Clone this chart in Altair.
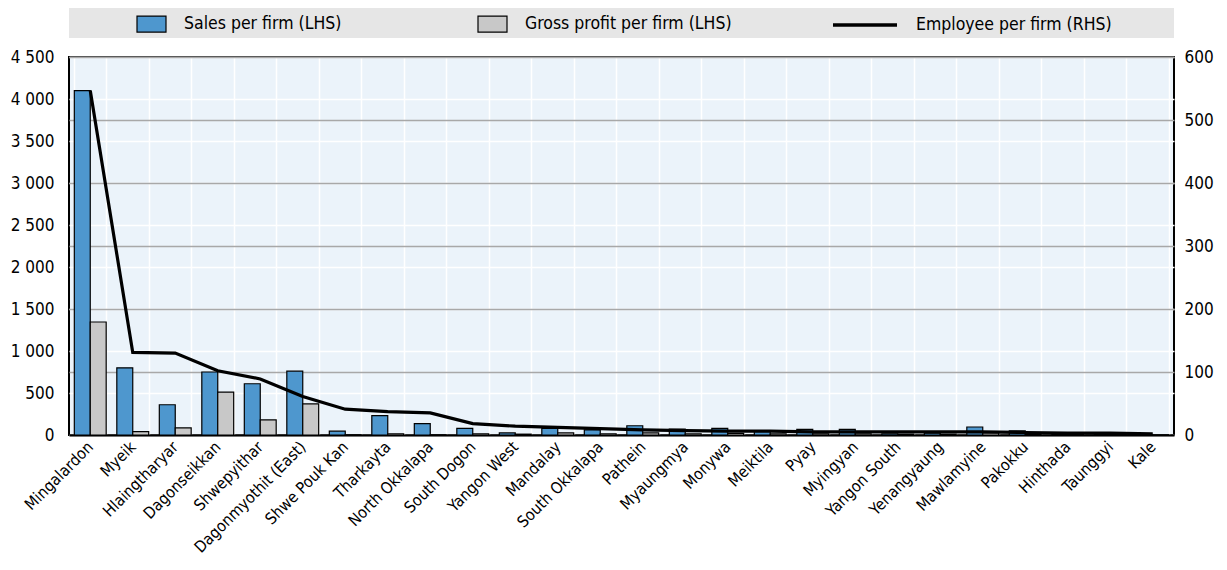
import altair as alt
import pandas as pd

categories = ["Mingalardon", "Myeik", "Hlaingtharyar", "Dagonseikkan", "Shwepyithar",
              "Dagonmyothit (East)", "Shwe Pouk Kan", "Tharkayta", "North Okkalapa",
              "South Dogon", "Yangon West", "Mandalay", "South Okkalapa", "Pathein",
              "Myaungmya", "Monywa", "Meiktila", "Pyay", "Myingyan", "Yangon South",
              "Yenangyaung", "Mawlamyine", "Pakokku", "Hinthada", "Taunggyi", "Kale"]
sales = [4100, 800, 360, 750, 610, 760, 45, 230, 135, 80, 25, 80, 60, 110,
         70, 80, 48, 68, 68, 15, 22, 95, 50, 10, 12, 6]
gross = [1345, 40, 85, 510, 180, 370, 3, 15, 3, 15, 10, 25, 15, 25,
         15, 20, 15, 15, 15, 10, 10, 25, 10, 5, 5, 3]
employees = [547, 131, 130, 102, 89, 61, 41, 37, 35, 18, 14, 12, 10, 8,
             7, 6, 6, 5, 5, 5, 5, 5, 4, 3, 3, 2]

S = "Sales per firm (LHS)"
G = "Gross profit per firm (LHS)"
E = "Employee per firm (RHS)"
bar_series = [S, G]
bar_colors = ["#4E97CE", "#C8C8C8"]
left_ticks = list(range(0, 4501, 500))
right_ticks = list(range(0, 601, 100))

n = len(categories)
bars_df = pd.DataFrame({
    "cat": categories * 2,
    "series": [S] * n + [G] * n,
    "value": sales + gross,
})
line_df = pd.DataFrame({"cat": categories, "emp": employees, "series": [E] * n})

FONT = "Liberation Sans Narrow, Arial Narrow, DejaVu Sans Condensed, sans-serif"
W, H = 1105, 378

xscale = alt.Scale(domain=categories, paddingInner=0.25, paddingOuter=0.125)
x_enc = alt.X("cat:N", sort=categories, scale=xscale, title=None,
              axis=alt.Axis(labelAngle=-45, labelAlign="right", labelBaseline="middle",
                            labelPadding=9, labelFontSize=16, ticks=False, domainColor="black",
                            domainWidth=2, grid=True, gridColor="white", gridWidth=1.5,
                            tickBand="extent", labelLimit=300))

bar_legend = alt.Legend(
    title=None, orient="none", legendX=67, legendY=-48.5, direction="horizontal",
    symbolType="M-1,-0.55H1V0.55H-1Z", symbolSize=841, symbolStrokeColor="black",
    symbolStrokeWidth=1.2, symbolOpacity=1, labelOffset=17, columnPadding=133, padding=0,
    labelFont=FONT, labelFontSize=17.5, labelColor="black", labelLimit=400,
)
line_legend = alt.Legend(
    title=None, orient="none", legendX=762, legendY=-66, direction="horizontal",
    symbolType="M-1,0H1", symbolSize=4096, symbolStrokeWidth=3.5, symbolOpacity=1,
    labelOffset=17, padding=0,
    labelFont=FONT, labelFontSize=17.5, labelColor="black", labelLimit=400,
)

band = alt.Chart(pd.DataFrame({"k": [0]})).mark_rect(color="#E6E6E6").encode(
    x=alt.value(0), x2=alt.value(W), y=alt.value(-49), y2=alt.value(-19))

bars = alt.Chart(bars_df).mark_bar(stroke="black", strokeWidth=1.2).encode(
    x=x_enc,
    xOffset=alt.XOffset("series:N", scale=alt.Scale(domain=bar_series, paddingInner=0, paddingOuter=0)),
    y=alt.Y("value:Q", title=None, scale=alt.Scale(domain=[0, 4500], nice=False),
            axis=alt.Axis(values=left_ticks, labelExpr="replace(format(datum.value, ','), ',', ' ')",
                          grid=True, gridColor="white", gridWidth=1.5, ticks=False, domain=False,
                          labelPadding=15)),
    color=alt.Color("series:N", scale=alt.Scale(domain=bar_series, range=bar_colors), legend=bar_legend),
)

line = alt.Chart(line_df).mark_line(strokeWidth=3.2).encode(
    x=x_enc,
    y=alt.Y("emp:Q", title=None, scale=alt.Scale(domain=[0, 600], nice=False),
            axis=alt.Axis(orient="right", values=right_ticks, grid=True, gridColor="#A8A8A8",
                          gridWidth=1.5, ticks=False, domain=False, labelPadding=10)),
    stroke=alt.Stroke("series:N", scale=alt.Scale(domain=[E], range=["black"]), legend=line_legend),
)

chart = alt.layer(band, bars, line).resolve_scale(y="independent").properties(
    width=W, height=H,
    autosize=alt.AutoSizeParams(type="none"),
    padding={"left": 61, "top": 49, "right": 45, "bottom": 127},
).configure_view(fill="#EBF3FA", stroke="black", strokeWidth=2).configure_axis(
    labelFont=FONT, labelFontSize=17, labelColor="black"
)

chart.save("out.html", embed_options={"renderer": "svg", "actions": False})
